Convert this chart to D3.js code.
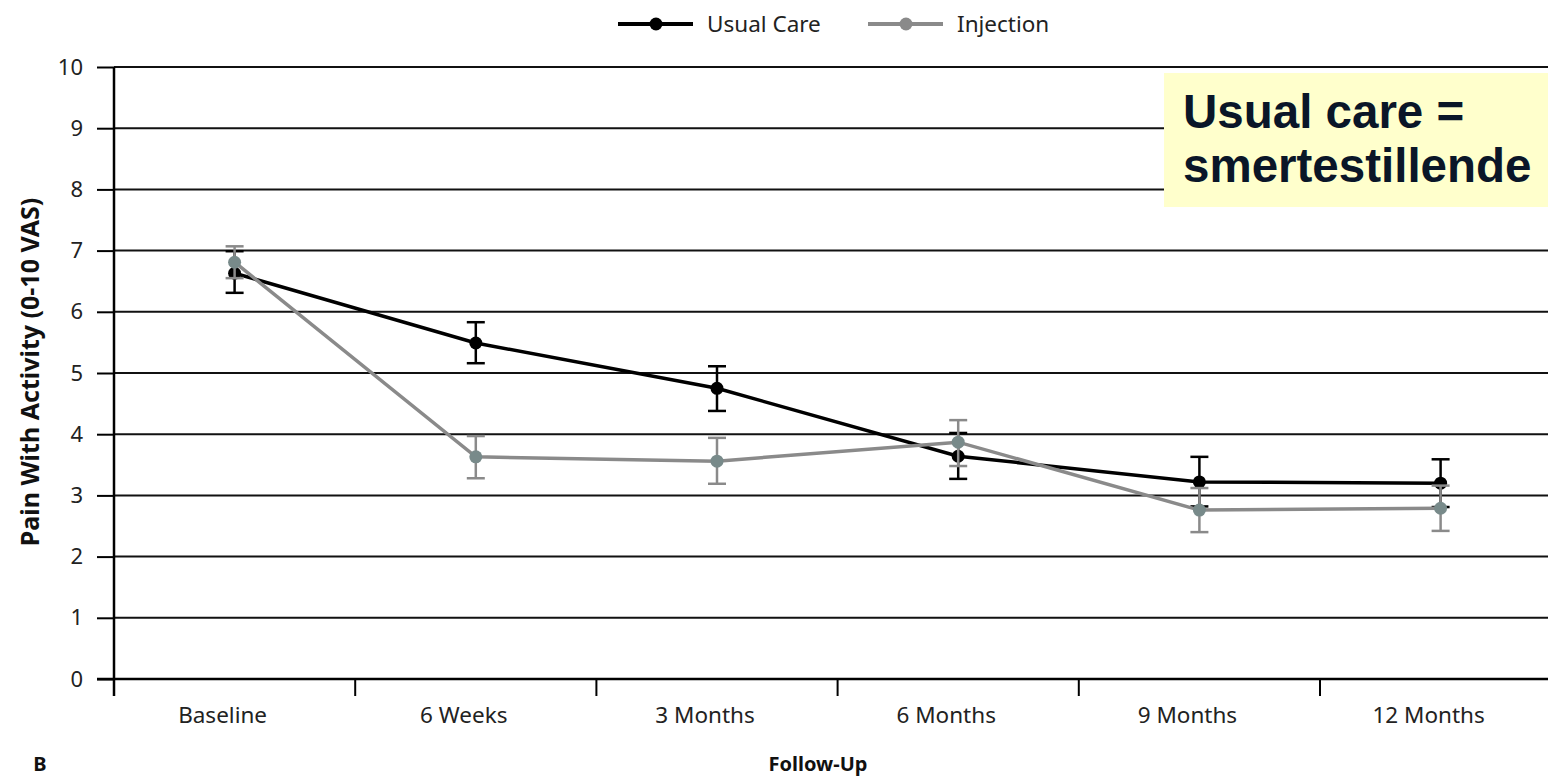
<!DOCTYPE html>
<html><head><meta charset="utf-8">
<script src="https://cdn.jsdelivr.net/npm/d3@7"></script>
<style>html,body{margin:0;padding:0;background:#fff;overflow:hidden}</style>
</head><body>
<svg id="chart" width="1548" height="780"></svg>
<script>
const categories = ["Baseline","6 Weeks","3 Months","6 Months","9 Months","12 Months"];
const usualMean  = [6.63, 5.49, 4.75, 3.64, 3.22, 3.20];
const usualLow   = [6.31, 5.16, 4.38, 3.27, 2.82, 2.81];
const usualHigh  = [6.99, 5.83, 5.11, 4.02, 3.63, 3.59];
const injMean    = [6.81, 3.63, 3.56, 3.87, 2.76, 2.79];
const injLow     = [6.55, 3.28, 3.19, 3.48, 2.40, 2.42];
const injHigh    = [7.07, 3.97, 3.94, 4.23, 3.12, 3.16];
const yTicks     = [0,1,2,3,4,5,6,7,8,9,10];
const seriesNames = ["Usual Care","Injection"];

const svg = d3.select("#chart");
const x = d3.scaleBand().domain(categories).range([114, 114 + 6*241.2]).padding(0);
const y = d3.scaleLinear().domain([0,10]).range([679, 67]);
const cx = c => x(c) + x.bandwidth()/2;

const font = "'Noto Sans', 'Open Sans', sans-serif";

// gridlines
svg.append("g").selectAll("line").data(yTicks.filter(t=>t>0)).join("line")
  .attr("x1",114).attr("x2",1548).attr("y1",d=>y(d)).attr("y2",d=>y(d))
  .attr("stroke","#111").attr("stroke-width",2);

// y axis
const yAxis = svg.append("g").attr("transform","translate(114,0)")
  .call(d3.axisLeft(y).tickValues(yTicks).tickSize(17).tickPadding(14).tickFormat(d3.format("d")));
yAxis.select(".domain").attr("stroke","#000").attr("stroke-width",2.5).attr("d","M0,"+(y(0)+17)+"V"+y(10));
yAxis.selectAll(".tick line").attr("stroke","#000").attr("stroke-width",2);
yAxis.selectAll(".tick text").attr("font-family",font).attr("font-size",22).attr("fill","#222");

// x axis
const xAxisG = svg.append("g").attr("transform","translate(0,"+y(0)+")");
xAxisG.append("line").attr("x1",97).attr("x2",1548).attr("y1",0).attr("y2",0)
  .attr("stroke","#000").attr("stroke-width",2.5);
xAxisG.selectAll("line.tk").data(categories).join("line").attr("class","tk")
  .attr("x1",d=>x(d)).attr("x2",d=>x(d)).attr("y1",0).attr("y2",17)
  .attr("stroke","#000").attr("stroke-width",2);
xAxisG.selectAll("text").data(categories).join("text")
  .attr("x",d=>cx(d)-12).attr("y",44).attr("text-anchor","middle")
  .attr("font-family",font).attr("font-size",22.5).attr("fill","#222").text(d=>d);

// axis titles
svg.append("text").attr("transform","translate(39,372) rotate(-90)")
  .attr("text-anchor","middle").attr("font-family",font).attr("font-weight","bold")
  .attr("font-size",25).attr("fill","#111").text("Pain With Activity (0-10 VAS)");
svg.append("text").attr("x",818).attr("y",771).attr("text-anchor","middle")
  .attr("font-family",font).attr("font-weight","bold").attr("font-size",20).attr("fill","#111").text("Follow-Up");
svg.append("text").attr("x",40).attr("y",771).attr("text-anchor","middle")
  .attr("font-family",font).attr("font-weight","bold").attr("font-size",20).attr("fill","#111").text("B");

function drawSeries(mean, low, high, lineColor, pointColor, barColor){
  const g = svg.append("g");
  const data = categories.map((c,i)=>({c, m:mean[i], lo:low[i], hi:high[i]}));
  data.forEach(d=>{
    g.append("line").attr("x1",cx(d.c)).attr("x2",cx(d.c)).attr("y1",y(d.lo)).attr("y2",y(d.hi))
      .attr("stroke",barColor).attr("stroke-width",2.5);
    [d.lo,d.hi].forEach(v=>g.append("line").attr("x1",cx(d.c)-9).attr("x2",cx(d.c)+9)
      .attr("y1",y(v)).attr("y2",y(v)).attr("stroke",barColor).attr("stroke-width",2.5));
  });
  g.append("path").datum(data)
    .attr("d", d3.line().x(d=>cx(d.c)).y(d=>y(d.m)))
    .attr("fill","none").attr("stroke",lineColor).attr("stroke-width",3.5);
  g.selectAll("circle").data(data).join("circle")
    .attr("cx",d=>cx(d.c)).attr("cy",d=>y(d.m)).attr("r",6.5).attr("fill",pointColor);
}
drawSeries(usualMean, usualLow, usualHigh, "#000", "#000", "#000");
drawSeries(injMean, injLow, injHigh, "#8a8a8a", "#788a8a", "#8a8a8a");

// legend
const leg = svg.append("g");
const legItems = [
  {name: seriesNames[0], x: 618, line:"#000", pt:"#000"},
  {name: seriesNames[1], x: 868, line:"#8a8a8a", pt:"#8a8a8a"}
];
legItems.forEach(it=>{
  leg.append("line").attr("x1",it.x).attr("x2",it.x+75).attr("y1",24).attr("y2",24)
    .attr("stroke",it.line).attr("stroke-width",4);
  leg.append("circle").attr("cx",it.x+38).attr("cy",24).attr("r",6.5).attr("fill",it.pt);
  leg.append("text").attr("x",it.x+89).attr("y",32).attr("font-family",font)
    .attr("font-size",22.5).attr("fill","#222").text(it.name);
});

// annotation box
svg.append("rect").attr("x",1164).attr("y",73).attr("width",384).attr("height",134).attr("fill","#ffffcc");
const ann = svg.append("text").attr("font-family","'Liberation Sans', Arial, sans-serif")
  .attr("font-weight","bold").attr("font-size",47.5).attr("fill","#0a1628");
ann.append("tspan").attr("x",1183).attr("y",128).text("Usual care =");
ann.append("tspan").attr("x",1183).attr("y",182).text("smertestillende");
</script>
</body></html>
